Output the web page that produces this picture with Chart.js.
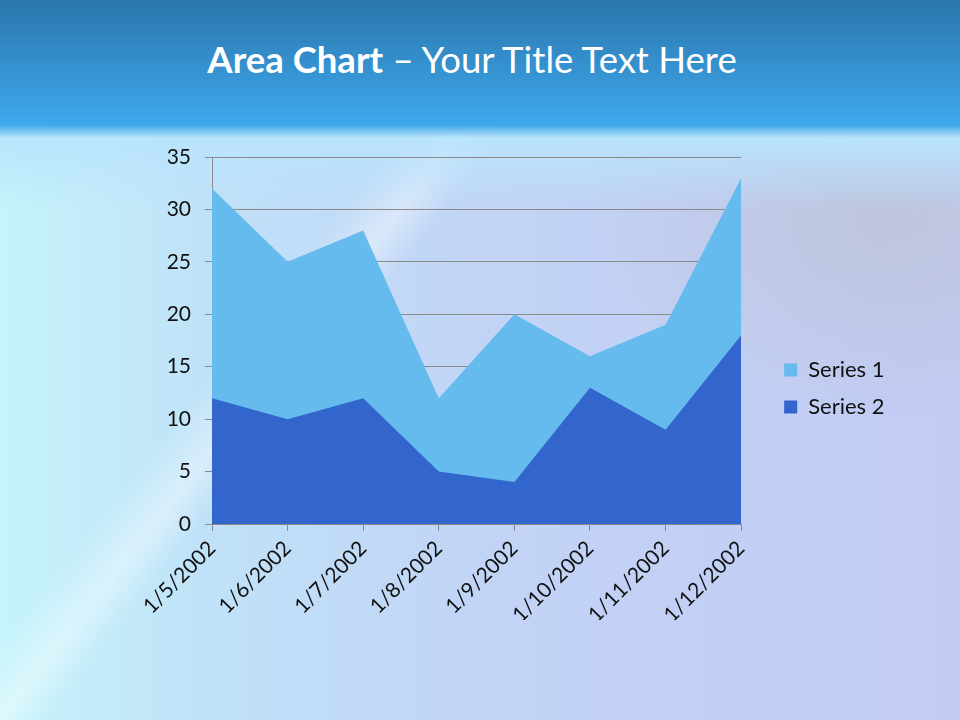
<!DOCTYPE html>
<html>
<head>
<meta charset="utf-8">
<script src="https://cdn.jsdelivr.net/npm/chart.js@4/dist/chart.umd.min.js"></script>
<style>
  html, body { margin: 0; padding: 0; }
  body {
    width: 960px; height: 720px; position: relative; overflow: hidden;
    font-family: Lato, "Open Sans", sans-serif;
    background:
      linear-gradient(180deg, #2b77ad 0px, #3a9ee0 100px, #3fa8ec 125px, rgba(185,228,252,0.95) 138px, rgba(200,225,250,0) 210px),
      linear-gradient(128deg, rgba(255,255,255,0) 33%, rgba(255,255,255,0.4) 37%, rgba(255,255,255,0) 40%),
      radial-gradient(ellipse 300px 200px at 880px 220px, rgba(190,195,215,0.8), rgba(190,195,215,0)),
      linear-gradient(90deg, #c6f4fb 0px, #c0e2f8 200px, #c2d4f6 480px, #c2cbf4 960px);
  }
  .title {
    position: absolute; top: 37px; left: 0; width: 944px; text-align: center;
    color: #fff; font-size: 36.5px;
  }
  .title b { font-weight: 700; }
  canvas { position: absolute; left: 0; top: 0; }
</style>
</head>
<body>
<div class="title"><b>Area Chart</b> – Your Title Text Here</div>
<canvas id="chart" width="960" height="720"></canvas>
<script>
const labels = ['1/5/2002', '1/6/2002', '1/7/2002', '1/8/2002', '1/9/2002', '1/10/2002', '1/11/2002', '1/12/2002'];
const series1 = [32, 25, 28, 12, 20, 16, 19, 33];
const series2 = [12, 10, 12, 5, 4, 13, 9, 18];

const ctx = document.querySelector('#chart').getContext('2d');

new Chart(ctx, {
    type: 'line',
    data: {
        labels: labels,
        datasets: [
            {
                label: 'Series 1',
                data: series1,
                backgroundColor: '#66bbee',
                borderWidth: 0,
                pointRadius: 0,
                fill: 'origin',
                order: 1
            },
            {
                label: 'Series 2',
                data: series2,
                backgroundColor: '#3366cc',
                borderWidth: 0,
                pointRadius: 0,
                fill: 'origin',
                order: 0
            }
        ]
    },
    options: {
        responsive: false,
        animation: false,
        layout: { padding: { left: 150, top: 157, right: 67, bottom: 100 } },
        plugins: {
            legend: {
                position: 'right',
                labels: {
                    boxWidth: 13,
                    boxHeight: 13,
                    padding: 15,
                    color: '#111',
                    font: { family: 'Lato', size: 22 },
                    sort: (a, b) => a.datasetIndex - b.datasetIndex
                }
            },
            tooltip: { enabled: false }
        },
        scales: {
            x: {
                offset: false,
                grid: { display: true, drawOnChartArea: false, color: '#8a8a8a', tickLength: 7 },
                border: { color: '#8a8a8a' },
                ticks: {
                    color: '#111',
                    font: { family: 'Lato', size: 21 },
                    maxRotation: 45,
                    minRotation: 45,
                    padding: 5
                },
                afterFit: (scale) => { scale.height = 96; }
            },
            y: {
                min: 0,
                max: 35,
                grid: { color: '#8a8a8a', tickLength: 7 },
                border: { color: '#8a8a8a' },
                ticks: {
                    stepSize: 5,
                    color: '#111',
                    font: { family: 'Lato', size: 21 },
                    padding: 14
                },
                afterFit: (scale) => { scale.width = 62; }
            },
            // empty axis on the right, only to leave a gap before the legend
            gap: {
                position: 'right',
                min: 0,
                max: 1,
                grid: { display: false },
                border: { display: false },
                ticks: { display: false },
                afterFit: (scale) => { scale.width = 28; }
            }
        }
    }
});
</script>
</body>
</html>
